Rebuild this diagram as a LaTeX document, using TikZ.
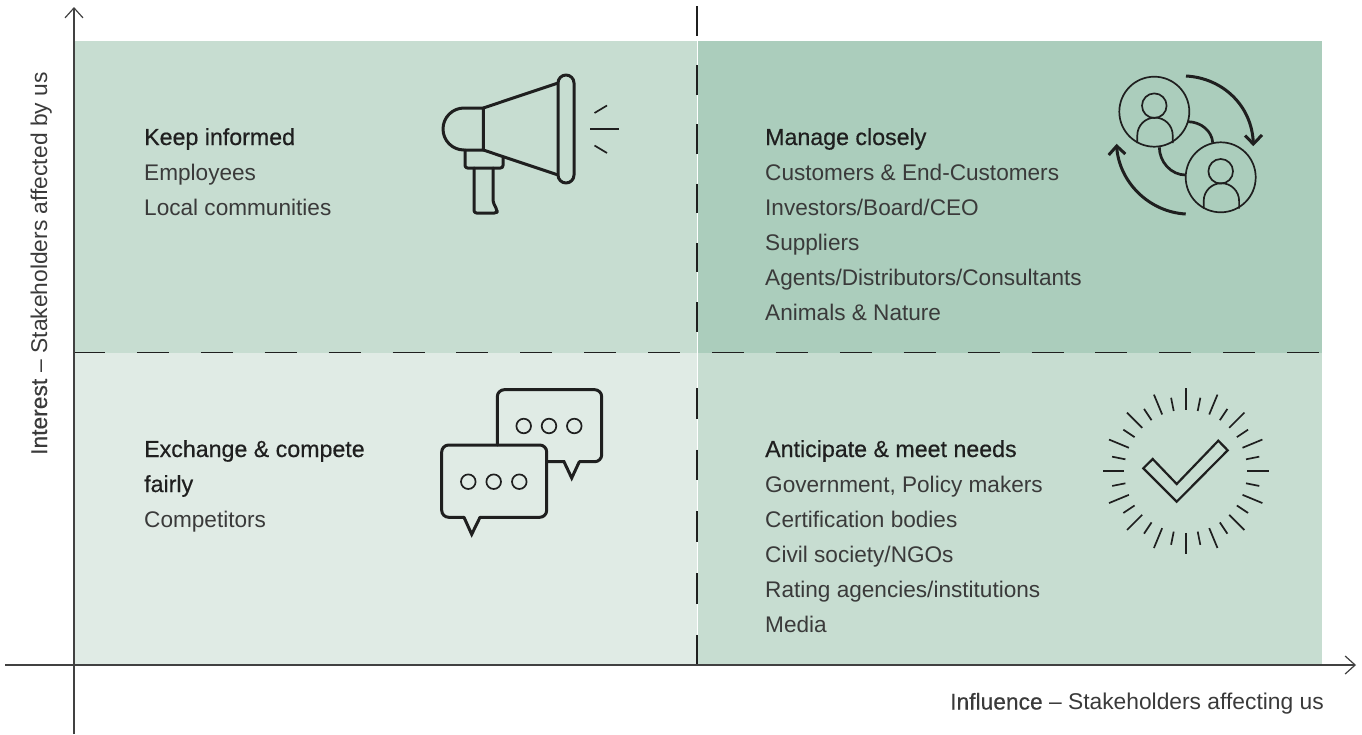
\documentclass[tikz,border=0pt]{standalone}
\usepackage{fontspec}
\setmainfont{Liberation Sans}
\newfontfamily\medfont[FakeBold=0.5]{Liberation Sans}
\usetikzlibrary{arrows.meta}
\definecolor{mid}{HTML}{C7DDD1}
\definecolor{deep}{HTML}{ABCDBC}
\definecolor{pale}{HTML}{E0EBE5}
\definecolor{ink}{HTML}{1F1F1F}
\definecolor{txt}{HTML}{3A3A3A}
\tikzset{
  x=1pt,y=-1pt,
  quad/.style={fill=#1,draw=none},
  body/.style={anchor=base west,inner sep=0pt,text=txt,font=\fontsize{22.6}{27}\selectfont},
  head/.style={anchor=base west,inner sep=0pt,text=ink,font=\fontsize{23.2}{27}\selectfont\medfont},
  axlab/.style={anchor=base west,inner sep=0pt,text=txt,font=\fontsize{22.8}{27}\selectfont},
  axisline/.style={draw=ink!85,line width=1.2pt,-{Straight Barb[length=10pt,width=18pt,line width=1.2pt]}},
  split/.style={draw=ink,line width=1.25pt},
  icon/.style={draw=ink,line width=3pt,line join=round,line cap=round},
  thin icon/.style={draw=ink,line width=1.7pt,line join=round},
}
\begin{document}
\begin{tikzpicture}
\useasboundingbox (0,0) rectangle (1362,734);
% quadrants
\fill[quad=mid] (74,41) rectangle (697,353);
\fill[quad=deep] (698,41) rectangle (1322,353);
\fill[quad=pale] (74,353) rectangle (697,665);
\fill[quad=mid] (698,353) rectangle (1322,665);
% dashed separators
\draw[split,dash pattern=on 32pt off 31.9pt] (73,352.7) -- (1320,352.7);
\draw[split,dash pattern=on 29.6pt off 29.6pt] (697,6) -- (697,332);
\draw[split,dash pattern=on 30.5pt off 31.2pt] (697,388) -- (697,665);
% axes
\coordinate (ybot) at (74,734); \coordinate (ytop) at (74,7);
\coordinate (xlft) at (5,665); \coordinate (xrgt) at (1356,665);
\draw[axisline] (ybot) -- (ytop);
\draw[axisline] (xlft) -- (xrgt);
% labels
\node[axlab,rotate=90] (ylab) at (47,455) {{\medfont Interest} – Stakeholders affected by us};
\node[axlab] (xlab) at (950,709.5) {{\medfont Influence} – Stakeholders affecting us};
% keep informed
\node[head] (a0) at (144,145) {Keep informed};
\node[body] (a1) at (144,180) {Employees};
\node[body] (a2) at (144,215) {Local communities};
% manage closely
\node[head] (b0) at (765,145) {Manage closely};
\node[body] (b1) at (765,180) {Customers \& End-Customers};
\node[body] (b2) at (765,215) {Investors/Board/CEO};
\node[body] (b3) at (765,250) {Suppliers};
\node[body] (b4) at (765,285) {Agents/Distributors/Consultants};
\node[body] (b5) at (765,320) {Animals \& Nature};
% exchange
\node[head] (c0) at (144,457) {Exchange \& compete};
\node[head] (c1) at (144,492) {fairly};
\node[body] (c2) at (144,527) {Competitors};
% anticipate
\node[head] (d0) at (765,457) {Anticipate \& meet needs};
\node[body] (d1) at (765,492) {Government, Policy makers};
\node[body] (d2) at (765,527) {Certification bodies};
\node[body] (d3) at (765,562) {Civil society/NGOs};
\node[body] (d4) at (765,597) {Rating agencies/institutions};
\node[body] (d5) at (765,632) {Media};
% megaphone
\draw[icon] (483.3,108) -- (464,108) arc[start angle=-90,end angle=-270,radius=21] -- (483.3,150) -- cycle;
\draw[icon] (483.3,108) -- (558,83);
\draw[icon] (483.3,150) -- (558,175);
\draw[icon,rounded corners=8pt] (558,75) rectangle (574,183);
\draw[icon,rounded corners=2.5pt] (465,150) -- (465,168) -- (503,168) -- (503,158);
\draw[icon,rounded corners=2.5pt] (474,168) -- (474,213) -- (497,213) -- (497,210) -- (493,202) -- (493,168);
\draw[thin icon,line cap=butt] (594.5,113) -- (607,105.5);
\draw[thin icon,line cap=butt] (590,129) -- (619,129);
\draw[thin icon,line cap=butt] (594.5,145.5) -- (607,153);
% users
\foreach \dx/\dy in {0/0,66.4/65.6}{
  \begin{scope}[shift={(\dx,\dy)}]
    \draw[thin icon] (1154.3,111.7) circle[radius=35];
    \draw[thin icon] (1154.3,105.7) circle[radius=12.3];
    \draw[thin icon] (1137.3,143) -- (1137.3,135.3) arc[start angle=180,end angle=360,radius=17.7] -- (1172.7,143);
  \end{scope}
}
\draw[icon,line width=2.7pt,line cap=butt] (1188.3,121.7) .. controls (1201,122) and (1212,131) .. (1212.7,142.7);
\draw[icon,line width=2.7pt,line cap=butt] (1159.3,147.3) .. controls (1159.5,162) and (1171,175) .. (1185.7,175);
\draw[icon,line cap=butt] (1186,76) .. controls (1223,78) and (1252,106) .. (1253.3,143);
\draw[icon,line cap=butt,line join=miter] (1245,135.5) -- (1253.3,144) -- (1262,135);
\draw[icon,line cap=butt] (1185.7,214) .. controls (1149,212) and (1119,182) .. (1116.7,147);
\draw[icon,line cap=butt,line join=miter] (1108.7,155) -- (1116.7,146) -- (1125.3,154);
% speech bubbles
\draw[icon,rounded corners=7pt] (497.3,445) -- (497.3,389.7) -- (601.7,389.7) -- (601.7,461.7) -- (579.3,461.7);
\draw[icon,line join=miter] (579.3,461.7) -- (571.7,478) -- (564,461.7) -- (547,461.7);
\draw[icon,rounded corners=7pt] (464,517.3) -- (441.7,517.3) -- (441.7,445) -- (546.7,445) -- (546.7,517.3) -- (480,517.3);
\draw[icon,line join=miter] (480,517.3) -- (471.7,534.3) -- (464,517.3);
\foreach \cx in {523.7,549,574.3} \draw[thin icon] (\cx,426) circle[radius=7.3];
\foreach \cx in {468.3,493.7,519.3} \draw[thin icon] (\cx,481.7) circle[radius=7.3];
% check
\draw[draw=ink,line width=2.2pt,line join=miter] (1143.3,468.3) -- (1152.7,459) -- (1176.7,484) -- (1218.3,440.7) -- (1227.7,450.3) -- (1176.7,501.7) -- cycle;
\foreach \i in {0,1,...,15}{
  \pgfmathsetmacro{\ang}{\i*22.5}
  \draw[thin icon] (1185.7,471.3) ++(\ang:61.5) -- ++(\ang:21.5);
  \pgfmathsetmacro{\angb}{\i*22.5+11.25}
  \draw[thin icon] (1185.7,471.3) ++(\angb:61.5) -- ++(\angb:13.5);
}
\end{tikzpicture}
\end{document}
